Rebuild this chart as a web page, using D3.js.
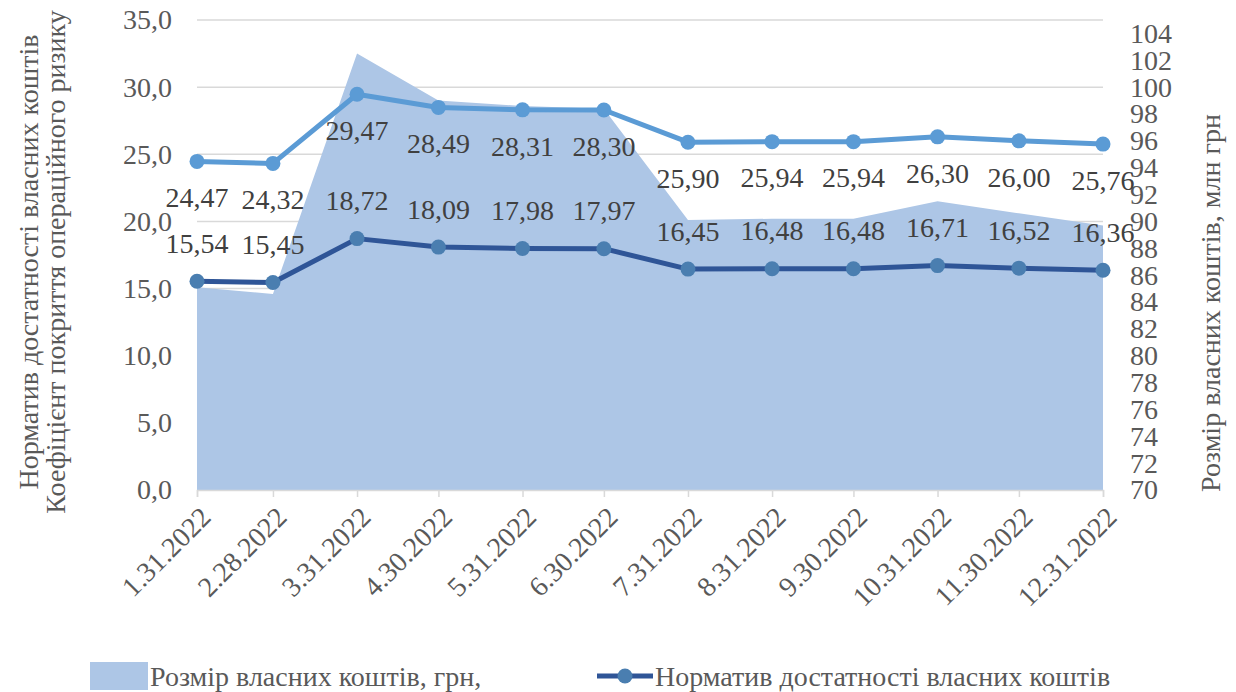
<!DOCTYPE html>
<html><head><meta charset="utf-8">
<script src="https://cdn.jsdelivr.net/npm/d3@7"></script>
</head>
<body style="margin:0">
<svg id="c" width="1236" height="692"></svg>
<script>
const dates = ["2022-01-31","2022-02-28","2022-03-31","2022-04-30","2022-05-31","2022-06-30","2022-07-31","2022-08-31","2022-09-30","2022-10-31","2022-11-30","2022-12-31"];
const dateLabels = ["1.31.2022","2.28.2022","3.31.2022","4.30.2022","5.31.2022","6.30.2022","7.31.2022","8.31.2022","9.30.2022","10.31.2022","11.30.2022","12.31.2022"];
const capital = [85.1, 84.6, 102.5, 99.0, 98.6, 98.4, 90.1, 90.2, 90.2, 91.5, 90.6, 89.7];
const coverage = [24.47, 24.32, 29.47, 28.49, 28.31, 28.30, 25.90, 25.94, 25.94, 26.30, 26.00, 25.76];
const adequacy = [15.54, 15.45, 18.72, 18.09, 17.98, 17.97, 16.45, 16.48, 16.48, 16.71, 16.52, 16.36];
const leftTicks = [0, 5, 10, 15, 20, 25, 30, 35];
const rightTicks = [70, 72, 74, 76, 78, 80, 82, 84, 86, 88, 90, 92, 94, 96, 98, 100, 102, 104];
const leftTitle = ["Норматив достатності власних коштів", "Коефіцієнт покриття операційного ризику"];
const rightTitle = "Розмір власних коштів, млн грн";
const legendNames = ["Розмір власних коштів, грн,", "Норматив достатності власних коштів"];

const svg = d3.select("#c");
const FS = 28;
const setFont = sel => sel.style("font-family", () => `"Liberation Serif"`).attr("font-size", FS);
const parse = d3.timeParse("%Y-%m-%d");
const dd = dates.map(parse);

const x = d3.scaleTime().domain([dd[0], dd[dd.length-1]]).range([197, 1103]);
const yL = d3.scaleLinear().domain([0, 35]).range([490, 20]);
const yR = d3.scaleLinear().domain([70, 105]).range([490, 20]);
const commaF = f => v => d3.format(f)(v).replace(".", ",");

svg.append("g").selectAll("line").data(leftTicks.filter(t => t > 0)).join("line")
  .attr("x1", 197).attr("x2", 1103)
  .attr("y1", d => yL(d)).attr("y2", d => yL(d))
  .attr("stroke", "#d9d9d9").attr("stroke-width", 1.5);

const area = d3.area().x((d, i) => x(dd[i])).y0(yR(70)).y1(d => yR(d));
svg.append("path").datum(capital).attr("d", area).attr("fill", "#adc6e6");

const gx = svg.append("g").attr("transform", `translate(0,${yL(0)})`)
  .call(d3.axisBottom(x).tickValues(dd).tickSize(7).tickFormat((d, i) => dateLabels[i]));
gx.select(".domain").attr("stroke", "#d9d9d9").attr("stroke-width", 1.5);
gx.selectAll(".tick line").attr("stroke", "#d9d9d9").attr("stroke-width", 1.5);
gx.selectAll(".tick text").call(setFont).attr("fill", "#595959")
  .attr("text-anchor", "end").attr("y", 0).attr("x", 0).attr("dy", "0.35em")
  .attr("transform", "translate(8,22) rotate(-45)");

const gl = svg.append("g").attr("transform", "translate(197,0)")
  .call(d3.axisLeft(yL).tickValues(leftTicks).tickSize(0).tickPadding(25).tickFormat(commaF(".1f")));
gl.select(".domain").remove();
gl.selectAll("text").call(setFont).attr("fill", "#595959");

const gr = svg.append("g").attr("transform", "translate(1103,0)")
  .call(d3.axisRight(yR).tickValues(rightTicks).tickSize(0).tickPadding(27).tickFormat(d3.format("d")));
gr.select(".domain").remove();
gr.selectAll("text").call(setFont).attr("fill", "#595959");

function drawLine(vals, color, mColor) {
  const line = d3.line().x((d, i) => x(dd[i])).y(d => yL(d));
  svg.append("path").datum(vals).attr("d", line).attr("fill", "none")
    .attr("stroke", color).attr("stroke-width", 5).attr("stroke-linejoin", "round");
  svg.append("g").selectAll("circle").data(vals).join("circle")
    .attr("cx", (d, i) => x(dd[i])).attr("cy", d => yL(d)).attr("r", 7.5)
    .attr("fill", mColor);
}
drawLine(coverage, "#5b9bd5", "#5b9bd5");
drawLine(adequacy, "#2f5597", "#4a7eb0");

const lab = commaF(".2f");
svg.append("g").selectAll("text").data(coverage).join("text")
  .attr("x", (d, i) => x(dd[i])).attr("y", d => yL(d) + 36).attr("dy", "0.35em")
  .attr("text-anchor", "middle").attr("fill", "#404040").call(setFont)
  .text(d => lab(d));
svg.append("g").selectAll("text").data(adequacy).join("text")
  .attr("x", (d, i) => x(dd[i])).attr("y", d => yL(d) - 38).attr("dy", "0.35em")
  .attr("text-anchor", "middle").attr("fill", "#404040").call(setFont)
  .text(d => lab(d));

function title(tx, ty, s) {
  svg.append("text").attr("transform", `translate(${tx},${ty}) rotate(-90)`).attr("dy", "0.35em")
    .attr("text-anchor", "middle").attr("fill", "#595959").call(setFont).text(s);
}
title(28, 262, leftTitle[0]);
title(55, 262, leftTitle[1]);
title(1210, 303, rightTitle);

const lg = svg.append("g");
lg.append("rect").attr("x", 90).attr("y", 662).attr("width", 58).attr("height", 28).attr("fill", "#adc6e6");
lg.append("text").attr("x", 150).attr("y", 676).attr("dy", "0.35em").attr("fill", "#595959").call(setFont).text(legendNames[0]);
lg.append("line").attr("x1", 597).attr("x2", 653).attr("y1", 676).attr("y2", 676).attr("stroke", "#2f5597").attr("stroke-width", 5);
lg.append("circle").attr("cx", 625).attr("cy", 676).attr("r", 7.5).attr("fill", "#4a7eb0");
lg.append("text").attr("x", 655).attr("y", 676).attr("dy", "0.35em").attr("fill", "#595959").call(setFont).text(legendNames[1]);
</script></body></html>
